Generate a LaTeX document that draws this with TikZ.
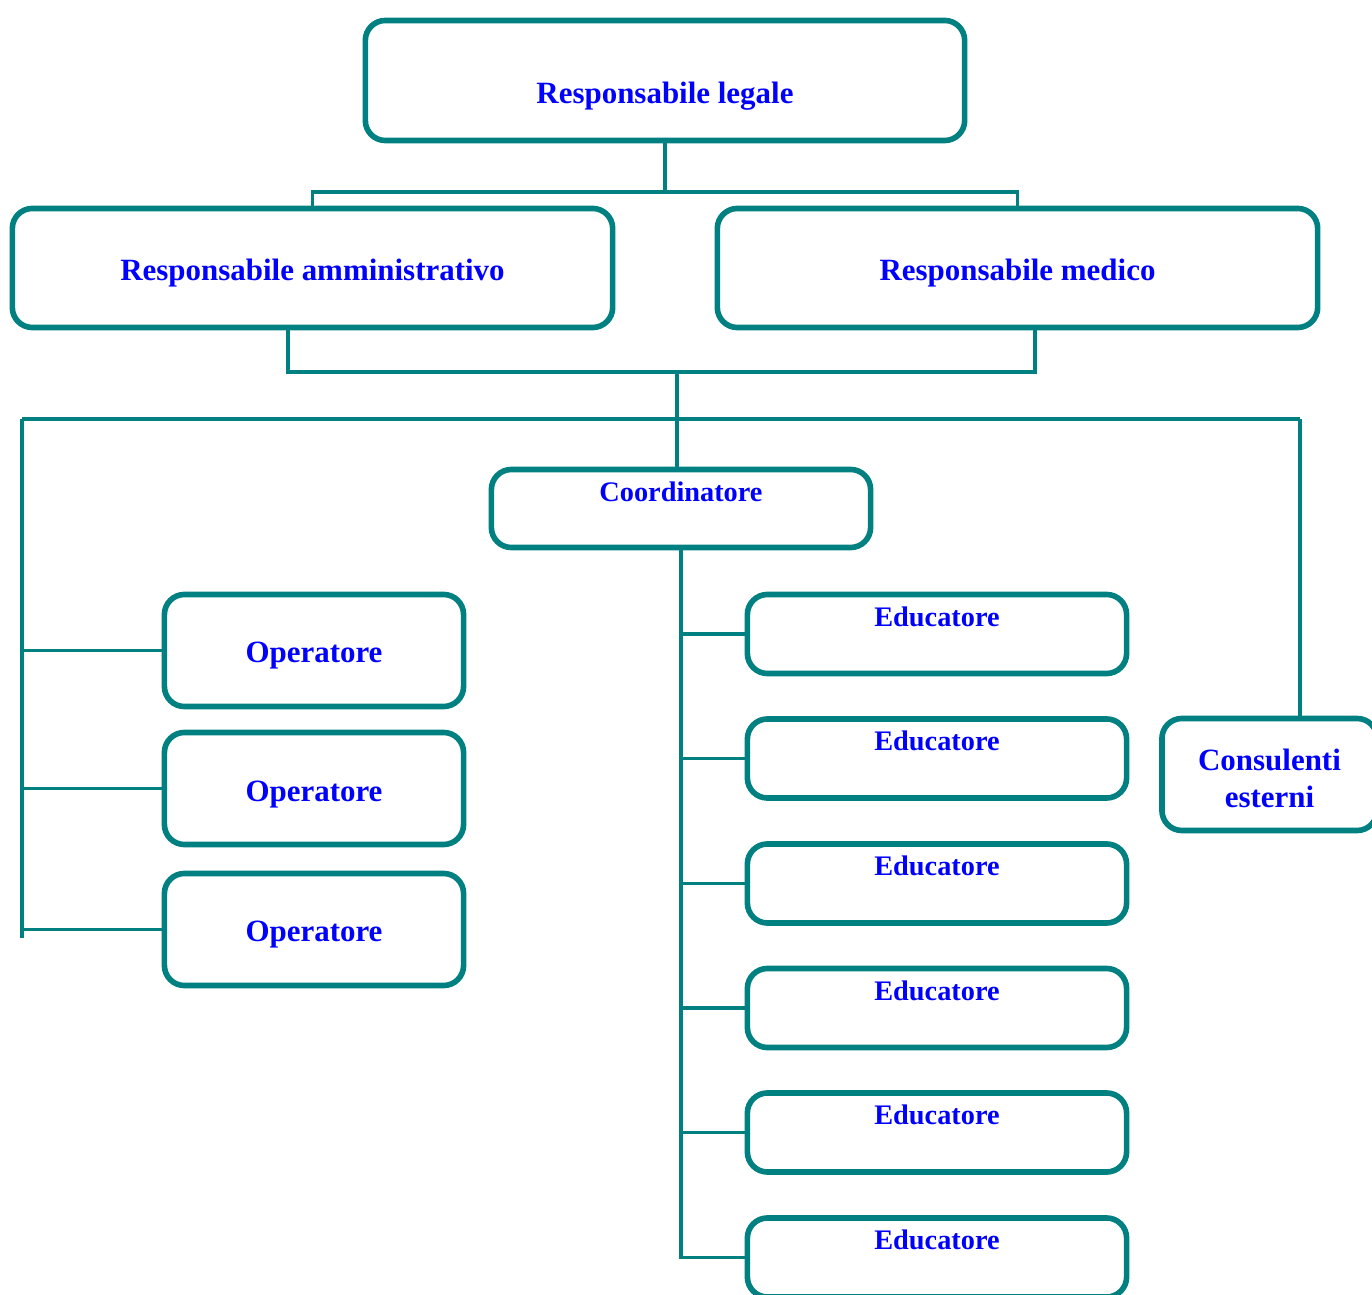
\documentclass[tikz,border=0pt]{standalone}
\usepackage{fontspec}
\setmainfont{Liberation Serif}
\usepackage{tikz}
\usetikzlibrary{positioning}
\definecolor{petrolio}{RGB}{0,128,128}
\definecolor{testoblu}{RGB}{0,0,255}

\tikzset{
    ruolo/.style={draw=petrolio, line width=1.6pt, rounded corners=0.2cm, text=testoblu, align=center, inner sep=0pt, font=\bfseries\fontsize{8.8}{10.5}\selectfont},
    ruolomedio/.style={ruolo, text height=0.25cm, text depth=0cm},
    ruolopiccolo/.style={ruolo, font=\bfseries\fontsize{8.05}{9.5}\selectfont, text height=0.19cm},
    linea/.style={draw=petrolio, line width=1.1pt}
}

\begin{document}
\begin{tikzpicture}[x=0.01cm, y=-0.01cm]
    % Grandezza della figura
        \useasboundingbox (0, 0) rectangle (1372, 1295);

    % Direzione
        \node[ruolo, minimum width=5.99cm, minimum height=1.2cm, text height=0.46cm, text depth=0pt] (legale) at (665, 80.5) {Responsabile legale};
        \node[ruolomedio, minimum width=6cm, minimum height=1.19cm] (amministrativo) at (312.5, 268) {Responsabile amministrativo};
        \node[ruolomedio, minimum width=6cm, minimum height=1.19cm] (medico) at (1017.5, 268) {Responsabile medico};

    % Coordinamento
        \node[ruolopiccolo, minimum width=3.79cm, minimum height=0.78cm, text depth=0.32cm] (coordinatore) at (681, 508.5) {Coordinatore};

    % Operatori
        \node[ruolomedio, minimum width=2.99cm, minimum height=1.12cm] (operatore1) at (314, 650.5) {Operatore};
        \node[ruolomedio, minimum width=2.99cm, minimum height=1.12cm] (operatore2) at (314, 788.5) {Operatore};
        \node[ruolomedio, minimum width=2.99cm, minimum height=1.12cm] (operatore3) at (314, 929.5) {Operatore};

    % Educatori
        \node[ruolopiccolo, minimum width=3.79cm, minimum height=0.79cm, text depth=0.34cm] (educatore1) at (937, 634) {Educatore};
        \node[ruolopiccolo, minimum width=3.79cm, minimum height=0.79cm, text depth=0.34cm] (educatore2) at (937, 758.5) {Educatore};
        \node[ruolopiccolo, minimum width=3.79cm, minimum height=0.79cm, text depth=0.34cm] (educatore3) at (937, 883.5) {Educatore};
        \node[ruolopiccolo, minimum width=3.79cm, minimum height=0.79cm, text depth=0.34cm] (educatore4) at (937, 1008) {Educatore};
        \node[ruolopiccolo, minimum width=3.79cm, minimum height=0.79cm, text depth=0.34cm] (educatore5) at (937, 1132.5) {Educatore};
        \node[ruolopiccolo, minimum width=3.79cm, minimum height=0.79cm, text depth=0.34cm] (educatore6) at (937, 1257.5) {Educatore};

    % Consulenti
        \node[ruolo, minimum width=2.15cm, minimum height=1.12cm, text height=0.66cm, text depth=0cm] (consulenti) at (1269.5, 774.5) {Consulenti\\esterni};

    % Punti di raccordo
        \coordinate (nodo1) at (665, 192);
        \coordinate (nodo2) at (677, 372);
        \coordinate (sbarrasx) at (22, 419);
        \coordinate (sbarradx) at (1300, 419);
        \coordinate (finesx) at (22, 938);

    % Collegamenti
        \draw[linea] (legale.south) -- (nodo1);
        \draw[linea] (amministrativo.north) |- (nodo1) -| (medico.north);
        \draw[linea] ([xshift=-0.245cm]amministrativo.south) |- (nodo2) -| ([xshift=0.175cm]medico.south);
        \draw[linea] (nodo2) -- (nodo2 |- coordinatore.north);
        \draw[linea] (sbarrasx) -- (sbarradx);
        \draw[linea] (sbarradx) -- (sbarradx |- consulenti.north);
        \draw[linea] (sbarrasx) -- (finesx);
        \foreach \i in {1,2,3}
            \draw[linea] (operatore\i.west) -- (operatore\i.west -| finesx);

    % Educatori
        \draw[linea] (coordinatore.south) |- (educatore6.west);
        \foreach \i in {1,...,5}
            \draw[linea] (coordinatore.south |- educatore\i.west) -- (educatore\i.west);
\end{tikzpicture}
\end{document}
